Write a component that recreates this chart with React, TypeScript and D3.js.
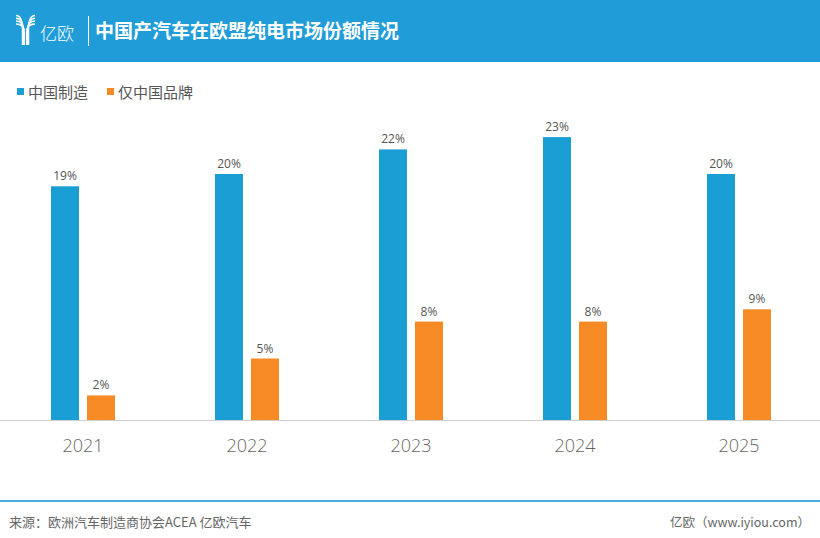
import { useEffect, useRef } from 'react';
import { select, scaleBand, scaleLinear } from 'd3';

const years = ['2021', '2022', '2023', '2024', '2025'];
const seriesNames = ['中国制造', '仅中国品牌'];
const madeInChina = [19, 20, 22, 23, 20];
const chineseBrands = [2, 5, 8, 8, 9];
const seriesColors = ['#1b9ed3', '#f68b25'];

const title = '中国产汽车在欧盟纯电市场份额情况';
const sourceText = '来源：欧洲汽车制造商协会ACEA 亿欧汽车';
const siteText = '亿欧（www.iyiou.com）';

const width = 820;
const height = 538;
const cjk = '"Noto Sans CJK SC", "Noto Sans", sans-serif';
const latin = '"Open Sans", "Noto Sans CJK SC", sans-serif';

export default function App() {
  const svgRef = useRef<SVGSVGElement | null>(null);

  useEffect(() => {
    const svgElement = svgRef.current;
    if (!svgElement) return;
    const svg = select(svgElement);
    svg.selectAll('*').remove();

    const baseline = 420;
    const x0 = scaleBand<string>().domain(years).range([1, 821]);
    const x1 = scaleBand<number>().domain([0, 1]).range([-32, 32]).paddingInner(8 / 36);
    const y = scaleLinear().domain([0, 25]).range([baseline, 112.5]);

    // header band
    svg.append('rect').attr('x', 0).attr('y', 0).attr('width', width).attr('height', 62).attr('fill', '#209dd8');

    // logo: striped Y mark
    const logo = svg.append('g').attr('fill', 'none').attr('stroke', '#ffffff').attr('stroke-width', 1.5);
    [0, 1, 2, 3].forEach((k) => {
      const d = k * 2.8;
      logo.append('path').attr('d', `M${16},${15.5 + d} C${21 + k},${15.5 + d} ${22.5 + k * 0.6},${22 + d} ${22.5 + k * 0.6},${30 + d * 0.3} L${22.5 + k * 0.6},45`);
      logo.append('path').attr('d', `M${35},${15.5 + d} C${30 - k},${15.5 + d} ${28.5 - k * 0.6},${22 + d} ${28.5 - k * 0.6},${30 + d * 0.3} L${28.5 - k * 0.6},45`);
    });
    svg.append('text').attr('x', 40).attr('y', 40).attr('fill', '#ffffff').attr('font-family', cjk)
      .attr('font-size', 17).attr('font-weight', 300).text('亿欧');
    svg.append('line').attr('x1', 88.5).attr('x2', 88.5).attr('y1', 16).attr('y2', 46).attr('stroke', '#ffffff').attr('stroke-width', 1);
    svg.append('text').attr('x', 95).attr('y', 38).attr('fill', '#ffffff').attr('font-family', cjk)
      .attr('font-size', 19).attr('font-weight', 700).text(title);

    // legend
    const legendX = [17, 107];
    seriesNames.forEach((name, i) => {
      svg.append('rect').attr('x', legendX[i]).attr('y', 88).attr('width', 7).attr('height', 7).attr('fill', seriesColors[i]);
      svg.append('text').attr('x', legendX[i] + 11).attr('y', 97.5).attr('fill', '#555555').attr('font-family', cjk)
        .attr('font-size', 15).text(name);
    });

    // bars
    const series = [madeInChina, chineseBrands];
    series.forEach((values, si) => {
      const g = svg.append('g');
      g.selectAll('rect').data(values).join('rect')
        .attr('x', (_, i) => (x0(years[i]) ?? 0) + x0.bandwidth() / 2 + (x1(si) ?? 0))
        .attr('y', (d) => y(d))
        .attr('width', x1.bandwidth())
        .attr('height', (d) => baseline - y(d))
        .attr('fill', seriesColors[si]);
      g.selectAll('text').data(values).join('text')
        .attr('x', (_, i) => (x0(years[i]) ?? 0) + x0.bandwidth() / 2 + (x1(si) ?? 0) + x1.bandwidth() / 2)
        .attr('y', (d) => y(d) - 6)
        .attr('text-anchor', 'middle')
        .attr('fill', '#555555')
        .attr('font-family', latin)
        .attr('font-size', 12)
        .attr('font-weight', 500)
        .text((d) => `${d}%`);
    });

    // axis
    svg.append('line').attr('x1', 0).attr('x2', width).attr('y1', baseline + 0.5).attr('y2', baseline + 0.5)
      .attr('stroke', '#cfcfcf').attr('stroke-width', 1);
    svg.append('g').selectAll('text').data(years).join('text')
      .attr('x', (d) => (x0(d) ?? 0) + x0.bandwidth() / 2)
      .attr('y', 452)
      .attr('text-anchor', 'middle')
      .attr('fill', '#666666')
      .attr('font-family', latin)
      .attr('font-size', 18)
      .attr('font-weight', 300)
      .text((d) => d);

    // footer
    svg.append('rect').attr('x', 0).attr('y', 500).attr('width', width).attr('height', 2).attr('fill', '#48aedc');
    svg.append('text').attr('x', 9).attr('y', 527).attr('fill', '#666666').attr('font-family', cjk)
      .attr('font-size', 13).text(sourceText);
    svg.append('text').attr('x', 810).attr('y', 527).attr('text-anchor', 'end').attr('fill', '#666666')
      .attr('font-family', cjk).attr('font-size', 12.5).text(siteText);
  }, []);

  return (
    <svg
      ref={svgRef}
      width={width}
      height={height}
      style={{ position: 'absolute', left: 0, top: 0, background: '#ffffff' }}
    />
  );
}
